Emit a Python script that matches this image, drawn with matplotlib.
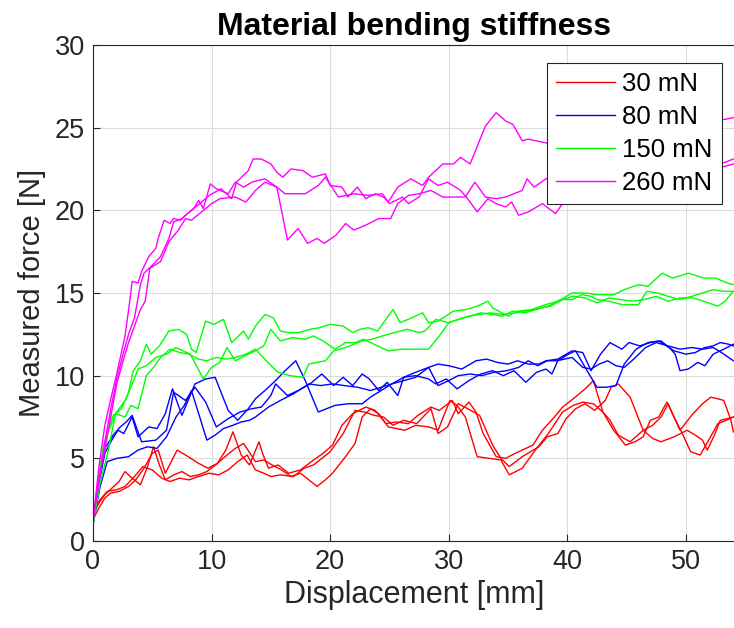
import matplotlib
matplotlib.use('Agg')
import matplotlib.pyplot as plt

plt.rcParams['font.family'] = ['Liberation Sans', 'DejaVu Sans']

# ---- data: displacement [mm] / force [N], three runs per load ----
x_30a = [0, 0.5, 1, 1.6, 2.2, 2.7, 3.3, 4, 4.6, 5.1, 5.6, 6.1, 6.8, 7.5, 8.2, 8.9, 9.6, 10.5, 11.2, 11.8, 12.5, 13.2, 14, 14.3, 14.8, 15.6, 16.5, 17.5, 18.6, 19.4, 20.2, 21, 21.9, 23, 23.8, 24.7, 25.6, 26.6, 27.4, 28.5, 29.2, 30.3, 30.8, 31.7, 32.3, 32.9, 34, 34.8, 35.6, 37.1, 37.9, 38.8, 39.6, 40.5, 41.5, 42.2, 43, 43.9, 44.9, 45.7, 46.4, 47, 47.7, 48.4, 49, 49.7, 50.4, 51.2, 52, 52.7, 53.4, 54]
f_30a = [1.6, 2.3, 2.8, 3.2, 3.6, 4.2, 3.8, 3.4, 4.5, 5.7, 4.6, 3.7, 4.0, 4.2, 3.9, 4.0, 4.2, 4.7, 5.5, 6.6, 5.2, 4.6, 6.0, 5.3, 4.4, 4.6, 4.1, 4.3, 4.9, 5.3, 5.8, 7.0, 7.7, 8.1, 7.9, 7.1, 7.2, 7.1, 7.6, 8.1, 7.9, 8.5, 7.7, 8.4, 7.8, 6.5, 5.1, 5.0, 5.3, 5.8, 6.7, 7.4, 8.1, 8.6, 9.2, 9.7, 7.8, 6.7, 5.8, 6.0, 6.3, 7.3, 7.5, 8.4, 7.5, 6.5, 5.4, 5.2, 6.2, 7.1, 7.3, 7.5]

x_30b = [0, 0.5, 1, 1.5, 2.2, 3, 3.6, 4.3, 5, 5.5, 6.1, 7.1, 7.8, 8.9, 9.7, 10.5, 11.3, 12, 12.7, 13.7, 14.4, 15.1, 15.9, 16.7, 17.5, 18.2, 18.9, 19.6, 20.2, 21.3, 22.1, 22.7, 23.4, 24.1, 24.9, 25.6, 26.3, 27.2, 28.3, 29.1, 30.1, 30.7, 31.4, 32.4, 33.4, 34.4, 35.1, 36.2, 37.3, 38.4, 39.6, 40.5, 41.3, 42.2, 43, 43.6, 44.3, 45.3, 46.4, 47.2, 47.9, 48.5, 49.5, 50.6, 51.4, 52.1, 52.7, 53.2, 53.8, 54]
f_30b = [1.3, 2.0, 2.6, 2.9, 3.0, 3.3, 3.7, 4.4, 5.3, 5.5, 4.1, 5.5, 5.2, 4.7, 4.4, 4.7, 5.2, 5.6, 5.9, 4.8, 4.9, 4.6, 4.3, 3.9, 4.1, 3.7, 3.3, 3.7, 4.1, 5.1, 5.9, 7.5, 8.0, 7.7, 6.9, 6.8, 6.7, 7.0, 6.9, 6.7, 8.5, 8.2, 7.5, 5.1, 5.0, 4.9, 4.0, 4.4, 5.5, 6.5, 7.8, 8.2, 8.4, 8.3, 7.8, 7.3, 6.4, 6.0, 6.7, 7.0, 7.5, 8.3, 6.7, 7.7, 8.3, 8.7, 8.6, 8.5, 7.3, 6.6]

x_30c = [0, 0.6, 1.2, 2, 2.7, 3.5, 4.2, 5, 5.8, 6.5, 7.3, 8.1, 8.9, 9.8, 10.6, 11.4, 12.2, 13, 13.7, 14.4, 15, 15.8, 16.9, 17.8, 18.6, 19.3, 20, 21.1, 22.1, 22.9, 23.7, 24.5, 25.3, 26.2, 27.3, 28.5, 29.1, 29.9, 30.8, 31.6, 32.6, 33.7, 34.4, 35.1, 36.2, 37.6, 38.3, 39.2, 39.9, 40.7, 41.5, 42.3, 43.2, 43.7, 44.3, 45.3, 45.9, 46.4, 47.2, 47.9, 49, 50.1, 50.8, 51.4, 51.8, 52.4, 52.9, 53.5, 54]
f_30c = [1.9, 2.5, 3.0, 3.1, 3.3, 3.9, 4.5, 4.3, 3.8, 3.6, 3.8, 3.7, 3.9, 4.1, 4.0, 4.3, 4.8, 5.2, 4.3, 4.1, 3.9, 4.0, 3.9, 4.4, 4.6, 5.0, 5.4, 6.5, 7.9, 7.8, 7.6, 7.5, 7.0, 7.3, 7.1, 8.0, 6.5, 6.9, 8.3, 8.0, 7.6, 5.8, 5.0, 4.5, 5.1, 5.7, 6.3, 6.5, 7.4, 8.0, 8.3, 7.9, 8.5, 9.3, 9.5, 8.7, 7.6, 6.7, 6.2, 6.0, 6.3, 6.7, 6.4, 6.1, 5.5, 6.4, 7.3, 7.4, 7.5]

x_80a = [0, 0.5, 1.0, 1.5, 2.1, 2.6, 3.3, 3.8, 4.7, 5.4, 6.1, 6.7, 7.5, 8.6, 9.5, 10.3, 11.4, 12.2, 13.1, 13.7, 14.5, 15.4, 16.2, 17.1, 17.9, 19, 20.4, 21.5, 22.7, 23.4, 24.3, 25.2, 26.2, 27.2, 28.3, 29.1, 30, 31.1, 32.3, 33.2, 34.1, 35, 35.8, 36.7, 37.6, 38.2, 39.2, 40.4, 41.3, 42, 42.8, 43.6, 44.6, 45.2, 46.1, 47, 47.9, 48.6, 49.1, 49.5, 50.2, 51, 51.6, 52.3, 53.2, 54]
f_80a = [1.0, 3.5, 5.3, 6.0, 6.7, 6.5, 7.5, 6.3, 6.9, 6.8, 7.7, 9.2, 7.6, 9.5, 9.8, 9.9, 7.9, 7.3, 8.0, 8.6, 9.1, 9.7, 10.3, 10.9, 9.7, 7.8, 8.2, 8.3, 8.3, 8.7, 9.1, 9.5, 9.9, 10.2, 10.5, 10.7, 10.6, 10.4, 10.9, 11.0, 10.8, 10.7, 10.9, 10.7, 10.7, 10.9, 11.0, 11.5, 11.4, 10.3, 11.3, 12.0, 11.6, 12.0, 11.8, 12.0, 12.1, 11.7, 11.3, 10.3, 10.4, 10.8, 10.6, 11.3, 11.6, 11.9]

x_80b = [0, 0.5, 1, 1.7, 2.3, 2.8, 3.3, 4.1, 5.3, 6.2, 6.8, 7.8, 8.6, 9.5, 10.4, 11.4, 12.4, 13.4, 14.2, 15, 15.4, 16.4, 17.3, 18.3, 19.3, 20.3, 21.1, 21.9, 22.7, 23.3, 24.1, 24.8, 25.7, 26.2, 27.2, 28.3, 28.9, 29.8, 30.7, 31.7, 32.7, 33.7, 34.6, 35.5, 36.5, 37.4, 38.2, 38.7, 39.2, 40.1, 40.7, 41.5, 42.5, 43.3, 44.1, 44.8, 45.8, 46.8, 47.7, 49, 50, 50.8, 51.6, 52.3, 52.9, 53.6, 54]
f_80b = [1.0, 4.0, 5.6, 6.4, 6.9, 7.2, 7.6, 6.0, 6.1, 6.7, 9.0, 8.5, 9.3, 8.4, 6.9, 7.4, 7.8, 8.0, 8.1, 8.8, 9.5, 8.8, 9.1, 9.5, 10.1, 9.4, 9.9, 9.4, 10.1, 9.8, 9.1, 9.6, 8.8, 9.9, 10.0, 9.8, 9.5, 9.8, 9.2, 9.7, 10.1, 10.3, 10.0, 10.3, 9.6, 10.2, 10.4, 10.1, 10.9, 11.3, 11.5, 10.5, 9.3, 9.3, 9.4, 10.7, 11.6, 12.0, 12.1, 11.5, 11.3, 11.4, 11.7, 11.8, 12.0, 11.9, 11.8]

x_80c = [0, 0.6, 1.2, 2, 3, 3.8, 4.6, 5.4, 6.2, 7, 7.7, 8.3, 9, 9.6, 10.3, 11, 11.8, 12.5, 13.2, 13.7, 14.8, 15.8, 16.9, 18.2, 19.2, 20.2, 21.2, 22.3, 23.4, 24.3, 25.2, 26.2, 27.2, 28.3, 29.1, 30, 30.8, 31.8, 32.8, 33.8, 34.9, 35.9, 36.7, 37.5, 38.3, 39.1, 40.4, 41.3, 42, 42.7, 43.4, 44.1, 44.8, 45.6, 46.6, 47.5, 48.5, 49.5, 50.5, 51.4, 52.3, 53, 53.6, 54]
f_80c = [1.0, 3.3, 4.8, 5.0, 5.1, 5.5, 5.7, 5.6, 6.3, 7.5, 8.2, 9.1, 7.5, 6.1, 6.4, 6.8, 7.0, 7.2, 7.3, 7.5, 8.1, 8.5, 8.9, 9.5, 9.4, 9.5, 9.4, 9.3, 9.1, 9.3, 9.5, 9.7, 9.9, 10.5, 9.4, 9.7, 10.0, 10.1, 10.0, 10.2, 10.3, 10.5, 10.9, 10.6, 10.9, 10.9, 11.1, 10.5, 10.4, 10.7, 10.9, 10.6, 10.5, 11.0, 11.7, 12.0, 11.8, 11.6, 11.7, 11.6, 11.7, 11.4, 11.1, 10.9]

x_150a = [0, 0.5, 0.9, 1.7, 2.4, 3, 3.4, 4, 4.5, 4.9, 5.6, 6.4, 7.2, 7.9, 8.3, 8.7, 9.5, 10.2, 11, 11.7, 12.7, 13.1, 13.7, 14.5, 15.2, 15.8, 16.5, 17.3, 18.3, 19.1, 20, 21.1, 21.9, 22.5, 23.2, 24, 24.6, 25.3, 25.9, 26.9, 27.8, 28.3, 29.1, 30.4, 31.5, 32.4, 33.3, 33.7, 35, 35.8, 37, 38.2, 39.2, 40.4, 41.5, 42.5, 43.9, 44.8, 46, 46.8, 48, 48.9, 50.2, 51.5, 52.5, 53.5, 54]
f_150a = [1.0, 4.0, 5.8, 7.6, 8.0, 9.0, 10.3, 10.9, 11.9, 11.3, 11.8, 12.7, 12.8, 12.5, 11.6, 11.4, 13.3, 13.1, 13.4, 12.0, 12.7, 12.2, 13.0, 13.7, 13.5, 12.7, 12.6, 12.6, 12.8, 12.9, 13.1, 13.0, 12.6, 12.8, 12.9, 12.7, 13.3, 14.0, 13.2, 13.5, 13.8, 13.2, 13.3, 13.9, 14.0, 14.2, 14.5, 14.1, 13.6, 13.9, 14.0, 14.3, 14.5, 15.0, 15.0, 14.9, 14.9, 15.2, 15.5, 15.4, 16.2, 15.9, 16.2, 15.9, 15.9, 15.6, 15.5]

x_150b = [0, 0.6, 1.2, 2, 2.8, 3.8, 4.5, 5.3, 6.2, 7, 7.6, 8.2, 8.8, 9.3, 10, 10.7, 11.3, 12, 12.8, 13.7, 14.4, 15, 15.8, 16.8, 17.9, 18.6, 19.4, 20.4, 21.3, 22.1, 22.8, 23.7, 24.9, 26, 27.1, 28.3, 29.1, 30, 30.8, 31.8, 32.7, 33.6, 34.5, 35.4, 36.4, 37.4, 38.4, 39.4, 40.4, 41.2, 42, 42.5, 43.5, 44.6, 46, 46.7, 47.6, 48.5, 49.5, 50.5, 51.4, 52.3, 53.2, 54]
f_150b = [1.0, 4.5, 6.5, 7.8, 8.6, 10.4, 10.6, 11.1, 11.3, 11.7, 11.5, 11.3, 10.5, 9.8, 10.5, 10.8, 11.7, 10.9, 11.2, 11.5, 11.8, 12.8, 12.1, 12.3, 12.2, 12.4, 12.1, 11.6, 12.0, 12.0, 12.2, 11.9, 11.5, 11.6, 11.6, 11.6, 12.3, 13.2, 13.4, 13.6, 13.8, 13.7, 13.6, 13.9, 13.8, 14.0, 14.2, 14.6, 14.6, 14.9, 14.8, 14.6, 14.5, 14.3, 14.3, 15.1, 15.0, 14.8, 14.6, 14.8, 15.0, 15.2, 15.1, 15.1]

x_150c = [0, 0.6, 1.3, 1.9, 2.7, 3.2, 3.8, 4.5, 5.1, 5.7, 6.5, 7.3, 8.1, 8.9, 9.6, 10.4, 11.2, 12, 12.9, 13.7, 14.6, 15.6, 16.6, 17.7, 18.2, 19.6, 20.3, 21.3, 22.7, 23.5, 24.4, 25.4, 26.5, 27.5, 28, 28.9, 30, 30.8, 31.7, 32.6, 33.5, 34.6, 35.6, 36.6, 37.6, 38.6, 39.6, 40.5, 41.5, 42.5, 43.5, 44.5, 45.5, 46.5, 47.5, 48.5, 49.5, 50.6, 51.5, 52.7, 53.3, 54]
f_150c = [1.0, 3.5, 5.5, 7.7, 7.5, 8.2, 8.0, 10.0, 10.5, 11.1, 11.6, 11.4, 11.3, 11.0, 10.9, 11.1, 11.0, 11.1, 11.3, 11.6, 10.9, 10.2, 10.0, 9.9, 10.7, 10.9, 11.5, 11.7, 12.1, 12.2, 12.4, 12.6, 12.8, 12.6, 12.7, 13.4, 13.2, 13.4, 13.6, 13.7, 13.8, 13.7, 13.8, 13.9, 14.1, 14.2, 14.6, 14.8, 14.7, 14.4, 14.7, 14.6, 14.5, 14.6, 14.8, 14.5, 14.7, 14.7, 14.5, 14.2, 14.5, 15.1]

x_260a = [0, 0.5, 1, 1.5, 2, 2.5, 3, 3.5, 4, 4.3, 4.9, 5.7, 6.4, 6.8, 7.5, 8.3, 9, 9.8, 10.8, 11.7, 12.1, 13.1, 13.5, 14.2, 15, 15.5, 16, 16.7, 17.7, 18.5, 19.6, 20, 21, 21.5, 22.3, 23, 23.8, 24.5, 24.9, 25.7, 26.8, 27.8, 28.3, 29.5, 30.4, 31, 31.8, 33.1, 34, 34.8, 35.4, 36.2, 36.7, 38.7, 40.5, 43, 46, 49, 51, 53.3, 54]
f_260a = [1.2, 3.5, 6, 8, 9.8, 11.2, 12.5, 13.5, 15.5, 16.2, 16.6, 17.2, 18.3, 19.3, 19.5, 20.0, 20.4, 20.9, 21.3, 20.7, 21.7, 22.4, 23.1, 23.1, 22.8, 22.3, 22.0, 22.5, 22.4, 22.0, 22.2, 21.5, 21.4, 20.8, 21.4, 20.7, 21.0, 20.8, 20.5, 21.4, 21.9, 21.5, 22.0, 22.8, 22.8, 23.2, 22.8, 25.1, 25.9, 25.4, 25.2, 24.2, 24.3, 24.0, 24.3, 24.8, 25.2, 25.4, 25.3, 25.5, 25.6]

x_260b = [0, 0.5, 1, 1.6, 2, 2.7, 3.1, 3.3, 3.8, 4.1, 4.7, 5.3, 5.5, 6, 6.5, 6.8, 7.4, 7.8, 8.5, 8.9, 9.3, 9.9, 10.4, 11.4, 12, 12.7, 13.4, 14.5, 15.5, 16.4, 17.3, 18.1, 18.9, 19.5, 20.5, 21.3, 22, 23, 24.1, 25.1, 25.7, 26.6, 27.5, 28.5, 29.5, 30.5, 31.4, 32.2, 33.1, 34, 34.8, 35.5, 36.2, 36.6, 37.2, 38.2, 38.7, 41, 44, 47, 50, 52, 53.3, 54]
f_260b = [1.2, 4.5, 7, 8.9, 10.1, 12.4, 14.5, 15.7, 15.6, 16.3, 17.2, 17.7, 18.3, 19.4, 19.2, 19.5, 19.4, 19.7, 20.1, 20.6, 20.1, 21.6, 21.3, 21.0, 21.7, 21.4, 21.7, 21.9, 21.4, 18.2, 18.9, 18.0, 18.3, 18.0, 18.5, 19.2, 18.8, 19.1, 19.5, 19.5, 20.4, 20.9, 21.0, 21.2, 20.8, 20.8, 20.8, 21.7, 20.8, 20.7, 20.8, 21.0, 21.2, 21.9, 21.4, 21.9, 22.0, 22.2, 22.0, 22.4, 22.5, 22.6, 22.9, 23.1]

x_260c = [0, 0.5, 1, 1.5, 2, 2.5, 3, 3.5, 4, 4.4, 4.8, 5.7, 6.4, 7.2, 7.8, 8.3, 9.5, 10, 10.7, 12, 12.9, 13.7, 14.5, 15.5, 16.2, 17.9, 19, 19.6, 20.7, 22, 23.2, 24.4, 25, 26.1, 26.6, 27.5, 28.3, 29.1, 29.9, 31, 31.6, 32.4, 33.3, 34, 34.8, 35.3, 35.9, 36.7, 37.9, 39, 39.6, 42, 45, 48, 51, 53, 54]
f_260c = [1.2, 3.8, 5.5, 7.5, 9.5, 10.8, 12.0, 13.0, 14.0, 14.5, 16.5, 16.9, 18.1, 18.8, 19.5, 19.4, 20.1, 20.4, 20.7, 20.8, 20.5, 21.2, 21.7, 21.4, 21.0, 21.0, 21.5, 22.0, 20.8, 21.0, 20.9, 21.0, 20.4, 20.8, 20.4, 20.8, 21.9, 21.5, 21.7, 21.2, 20.7, 19.9, 20.7, 20.4, 20.2, 20.5, 19.7, 19.9, 20.4, 19.8, 20.4, 21.0, 21.6, 22.0, 22.3, 22.6, 22.8]

loads = ['30 mN', '80 mN', '150 mN', '260 mN']
colors = ['#FF0000', '#0000FF', '#00FF00', '#FF00FF']
runs = [
    [(x_30a, f_30a), (x_30b, f_30b), (x_30c, f_30c)],
    [(x_80a, f_80a), (x_80b, f_80b), (x_80c, f_80c)],
    [(x_150a, f_150a), (x_150b, f_150b), (x_150c, f_150c)],
    [(x_260a, f_260a), (x_260b, f_260b), (x_260c, f_260c)],
]

dark = '#262626'
fig = plt.figure(figsize=(7.34, 6.28), dpi=100)
ax = fig.add_axes([0.1267, 0.1385, 0.874, 0.790])

for name, col, group in zip(loads, colors, runs):
    for i, (xs, fs) in enumerate(group):
        ln, = ax.plot(xs, fs, color=col, lw=1.0)
        if i == 0:
            ln.set_label(name)

ax.set_xlim(0, 54.1)
ax.set_ylim(0, 30)
ax.set_xticks([0, 10, 20, 30, 40, 50])
ax.set_yticks([0, 5, 10, 15, 20, 25, 30])
ax.grid(True, color='#dcdcdc', lw=0.8)
ax.set_axisbelow(True)
ax.tick_params(direction='in', labelsize=19.5, colors=dark, length=5, width=0.8, pad=6)
for s in ax.spines.values():
    s.set_color(dark)
    s.set_linewidth(0.8)
ax.spines['right'].set_visible(False)

ax.set_xlabel('Displacement [mm]', fontsize=22, color=dark, labelpad=3)
ax.set_ylabel('Measured force [N]', fontsize=21, color=dark, labelpad=6)
ax.set_title('Material bending stiffness', fontsize=23, fontweight='bold', pad=7)

leg = ax.legend(loc='upper right', bbox_to_anchor=(0.980, 0.964), fontsize=18.5,
                fancybox=False, framealpha=1, edgecolor=dark, handlelength=2.3,
                borderpad=0.35, labelspacing=0.35, handletextpad=0.3,
                borderaxespad=0)
leg.get_frame().set_linewidth(0.8)

fig.savefig('out.png', dpi=100)
